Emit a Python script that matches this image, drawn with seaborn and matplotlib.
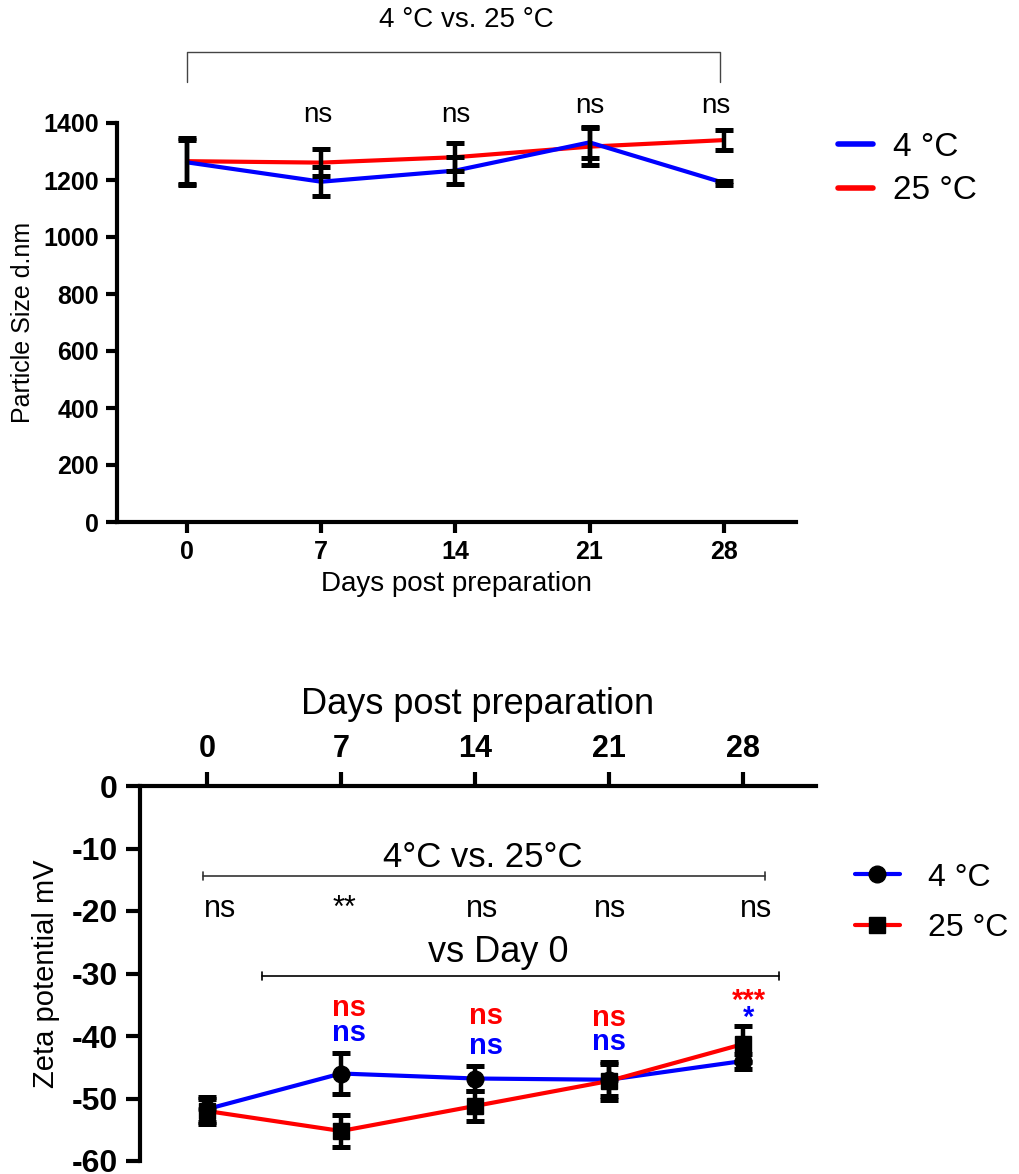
import numpy as np
import pandas as pd
import matplotlib
matplotlib.use("Agg")
import matplotlib.pyplot as plt
from matplotlib.lines import Line2D
import seaborn as sns

# ---- data -------------------------------------------------------------
days = [0, 7, 14, 21, 28]
temps = ["4 °C", "25 °C"]

size_4c = [1262, 1194, 1233, 1332, 1190]
size_4c_sd = [80, 50, 47, 55, 6]
size_25c = [1266, 1261, 1280, 1317, 1340]
size_25c_sd = [80, 47, 50, 65, 36]
size_sig = ["ns", "ns", "ns", "ns"]          # 4 °C vs 25 °C, days 7..28

zeta_4c = [-51.7, -46.0, -46.8, -47.0, -44.0]
zeta_4c_sd = [2.0, 3.3, 2.0, 2.6, 1.2]
zeta_25c = [-52.0, -55.2, -51.2, -47.2, -41.3]
zeta_25c_sd = [2.0, 2.6, 2.4, 3.0, 2.9]
zeta_sig_between = ["ns", "**", "ns", "ns", "ns"]   # 4 °C vs 25 °C
zeta_sig_day0_25c = ["ns", "ns", "ns", "***"]       # vs day 0, days 7..28
zeta_sig_day0_4c = ["ns", "ns", "ns", "*"]

colors = {"4 °C": "#0000FF", "25 °C": "#FF0000"}

size_df = pd.DataFrame({
    "day": days * 2,
    "value": size_4c + size_25c,
    "sd": size_4c_sd + size_25c_sd,
    "temp": [temps[0]] * 5 + [temps[1]] * 5,
})
zeta_df = pd.DataFrame({
    "day": days * 2,
    "value": zeta_4c + zeta_25c,
    "sd": zeta_4c_sd + zeta_25c_sd,
    "temp": [temps[0]] * 5 + [temps[1]] * 5,
})

# ---- style ------------------------------------------------------------
sns.set_theme(style="ticks", rc={
    "text.color": "black", "axes.labelcolor": "black",
    "axes.edgecolor": "black", "xtick.color": "black", "ytick.color": "black",
    "axes.linewidth": 3, "axes.unicode_minus": False,
})
plt.rcParams["font.family"] = ["Liberation Sans", "DejaVu Sans"]

W, H = 1019, 1174
fig = plt.figure(figsize=(W / 100, H / 100), dpi=100)

# ---- particle size ----------------------------------------------------
ax1 = fig.add_axes([117 / W, 1 - 522 / H, (796 - 117) / W, (522 - 123) / H])
sns.lineplot(data=size_df, x="day", y="value", hue="temp", palette=colors,
             hue_order=["25 °C", "4 °C"], linewidth=3, errorbar=None,
             legend=False, ax=ax1)
for t in temps:
    d = size_df[size_df.temp == t]
    ax1.errorbar(d["day"], d["value"], yerr=d["sd"], fmt="none", ecolor="black",
                 elinewidth=3.2, capsize=6.5, capthick=3.6, zorder=5)

ax1.set_xlim(-3.65, 31.77)
ax1.set_ylim(0, 1400)
ax1.set_xticks(days)
ax1.set_yticks(np.arange(0, 1401, 200))
sns.despine(ax=ax1)
ax1.tick_params(axis="both", width=3, length=8, labelsize=18, pad=5)
for lbl in ax1.get_xticklabels() + ax1.get_yticklabels():
    lbl.set_fontweight("bold")
ax1.set_xlabel("Days post preparation", fontsize=20, labelpad=5)
ax1.set_ylabel("Particle Size d.nm", fontsize=18, labelpad=6)

# comparison bracket above the plot
ax1.plot([0, 0, 27.8, 27.8], [1544, 1649, 1649, 1544], color="#444444",
         linewidth=1.0, clip_on=False)
ax1.text(14.55, 1761, "4 °C vs. 25 °C", ha="center", va="center", fontsize=20)
for x, y, s in zip([6.85, 14.0, 21.0, 27.6], [1428, 1428, 1460, 1460], size_sig):
    ax1.text(x, y, s, ha="center", va="center", fontsize=20, clip_on=False)

h1 = [Line2D([], [], color=colors[t], linewidth=4) for t in temps]
fig.legend(h1, temps, loc="center left", bbox_to_anchor=(838 / W, 1 - 169 / H),
           frameon=False, fontsize=24, handlelength=1.05, handletextpad=0.6,
           labelspacing=0.38, borderpad=0, borderaxespad=0)

# ---- zeta potential ---------------------------------------------------
ax2 = fig.add_axes([140 / W, 1 - 1161 / H, (816 - 140) / W, (1161 - 786) / H])
sns.lineplot(data=zeta_df, x="day", y="value", hue="temp", palette=colors,
             hue_order=["4 °C", "25 °C"], linewidth=3, errorbar=None,
             legend=False, ax=ax2)
markers = {"4 °C": "o", "25 °C": "s"}
for t in temps:
    d = zeta_df[zeta_df.temp == t]
    ax2.errorbar(d["day"], d["value"], yerr=d["sd"], fmt=markers[t], color="black",
                 markersize=12, elinewidth=3.2, capsize=6.5, capthick=3.6, zorder=5)

ax2.set_xlim(-3.5, 31.82)
ax2.set_ylim(-60, 0)
ax2.set_xticks(days)
ax2.set_yticks(np.arange(-60, 1, 10))
ax2.xaxis.tick_top()
ax2.xaxis.set_label_position("top")
for side in ["bottom", "right"]:
    ax2.spines[side].set_visible(False)
ax2.tick_params(axis="both", width=3, length=10, labelsize=22, pad=6)
ax2.tick_params(axis="y", labelsize=23)
for lbl in ax2.get_xticklabels() + ax2.get_yticklabels():
    lbl.set_fontweight("bold")
ax2.set_xlabel("Days post preparation", fontsize=26, labelpad=14)
ax2.set_ylabel("Zeta potential mV", fontsize=21, labelpad=8)

# 4 °C vs 25 °C bracket
ax2.plot([-0.2, 29.15], [-14.4, -14.4], color="#333333", linewidth=1.2)
for x in [-0.2, 29.15]:
    ax2.plot([x, x], [-13.7, -15.1], color="#333333", linewidth=1.2)
ax2.text(14.4, -11.4, "4°C vs. 25°C", ha="center", va="center", fontsize=25)
for x, s in zip([0.7, 7.2, 14.4, 21.05, 28.7], zeta_sig_between):
    ax2.text(x, -19.7, s, ha="center", va="center", fontsize=22)

# vs day 0 bracket
ax2.plot([2.9, 29.9], [-30.4, -30.4], color="black", linewidth=1.2, clip_on=False)
for x in [2.9, 29.9]:
    ax2.plot([x, x], [-29.7, -31.1], color="black", linewidth=1.2, clip_on=False)
ax2.text(15.2, -26.6, "vs Day 0", ha="center", va="center", fontsize=26)

for x, yr, yb, sr, sb in zip([7.4, 14.6, 21.0, 28.3],
                             [-35.5, -36.8, -37.1, -34.4],
                             [-39.5, -41.6, -41.0, -37.1],
                             zeta_sig_day0_25c, zeta_sig_day0_4c):
    ax2.text(x, yr, sr, ha="center", va="center", fontsize=21,
             fontweight="bold", color=colors["25 °C"])
    ax2.text(x, yb, sb, ha="center", va="center", fontsize=21,
             fontweight="bold", color=colors["4 °C"])

h2 = [Line2D([], [], color=colors[t], linewidth=3, marker=markers[t],
             markersize=12, markerfacecolor="black", markeredgecolor="black")
      for t in temps]
fig.legend(h2, temps, loc="center left", bbox_to_anchor=(855 / W, 1 - 903 / H),
           frameon=False, fontsize=23, handlelength=1.4, handletextpad=0.9,
           labelspacing=0.65, borderpad=0, borderaxespad=0)

fig.savefig("out.png", dpi=100)
